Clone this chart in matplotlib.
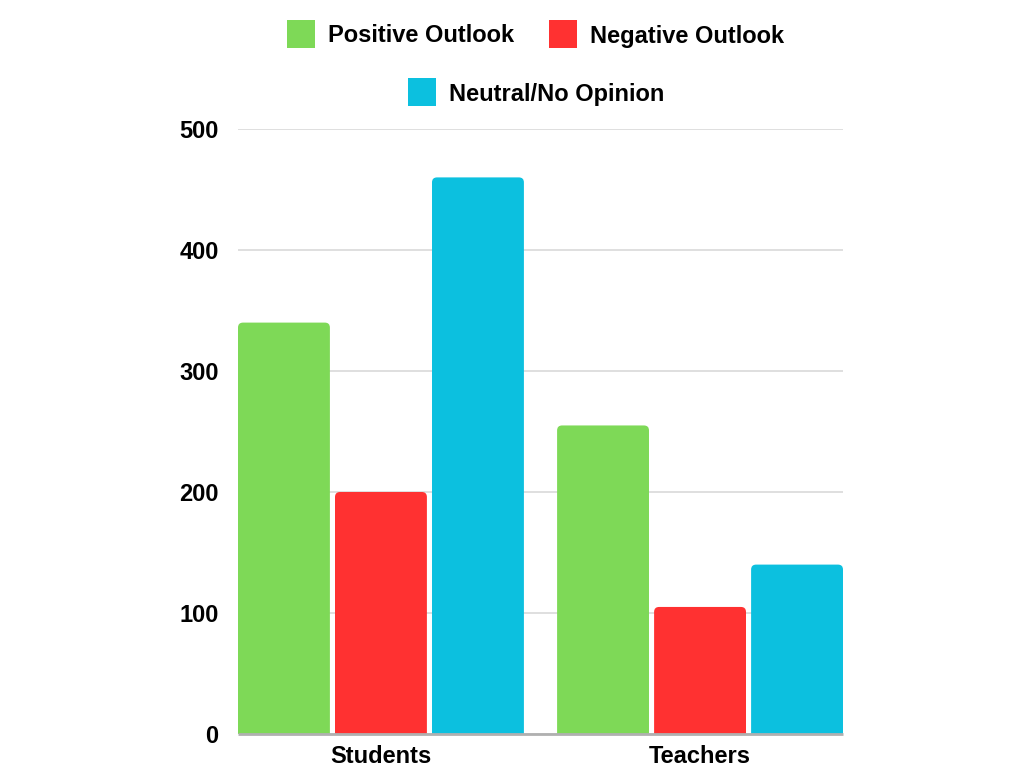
import numpy as np
import matplotlib
matplotlib.use('Agg')
import matplotlib.pyplot as plt
from matplotlib.patches import FancyBboxPatch, Rectangle

# data
groups = ['Students', 'Teachers']
series_names = ['Positive Outlook', 'Negative Outlook', 'Neutral/No Opinion']
positive = [340, 255]
negative = [200, 105]
neutral = [460, 140]
colors = ['#7ED957', '#FF3131', '#0CC0DF']

plt.rcParams['font.family'] = ['Liberation Sans', 'DejaVu Sans']
plt.rcParams['font.weight'] = 'bold'

fig = plt.figure(figsize=(10.24, 7.68), dpi=100)
W, H = 1024, 768
ax = fig.add_axes([238 / W, 1 - 734 / H, (843 - 238) / W, (734 - 129) / H])

x = np.arange(len(groups))
width = 0.288
step = 0.304
values = [positive, negative, neutral]

ax.set_xlim(-0.448, 1.448)
ax.set_ylim(0, 500)

# axes data-to-pixel ratio for rounded corners
px_per_x = (843 - 238) / (1.448 + 0.448)
px_per_y = (734 - 129) / 500
radius_px = 5

for i, (vals, c) in enumerate(zip(values, colors)):
    bars = ax.bar(x + (i - 1) * step, vals, width, color=c, zorder=3)
    for b in bars:
        b.set_visible(False)
        bx, by = b.get_x(), b.get_y()
        bw, bh = b.get_width(), b.get_height()
        p = FancyBboxPatch((bx, by - 10), bw, bh + 10,
                           boxstyle=f"round,pad=0,rounding_size={radius_px / px_per_x}",
                           mutation_aspect=px_per_x / px_per_y,
                           facecolor=c, edgecolor='none', zorder=3)
        ax.add_patch(p)

ax.set_yticks([0, 100, 200, 300, 400, 500])
ax.grid(True, axis='y', color='#d9d9d9', linewidth=1.2, zorder=0)
ax.set_axisbelow(True)
for s in ['top', 'right', 'left']:
    ax.spines[s].set_visible(False)
ax.spines['bottom'].set_color('#b0b0b0')
ax.spines['bottom'].set_linewidth(2)
ax.spines['bottom'].set_capstyle('butt')
ax.spines['bottom'].set_zorder(4)
ax.tick_params(axis='both', length=0, labelsize=17)
ax.tick_params(axis='y', pad=14)
ax.tick_params(axis='x', pad=8)
ax.set_xticks(x)
ax.set_xticklabels(groups, fontweight='bold')
for lab in ax.get_yticklabels():
    lab.set_fontweight('bold')

# legend drawn manually, centred rows
legend_items = [
    (287, 34, 0),
    (549, 34, 1),
    (408, 92, 2),
]
for lx, ly, idx in legend_items:
    sq = 28
    fig.patches.append(Rectangle((lx / W, 1 - (ly + sq / 2) / H), sq / W, sq / H,
                                 transform=fig.transFigure, facecolor=colors[idx],
                                 edgecolor='none'))
    fig.text((lx + sq + 13) / W, 1 - (ly + 2) / H, series_names[idx], fontsize=17,
             fontweight='bold', va='center', ha='left')

fig.savefig('out.png', dpi=100)
